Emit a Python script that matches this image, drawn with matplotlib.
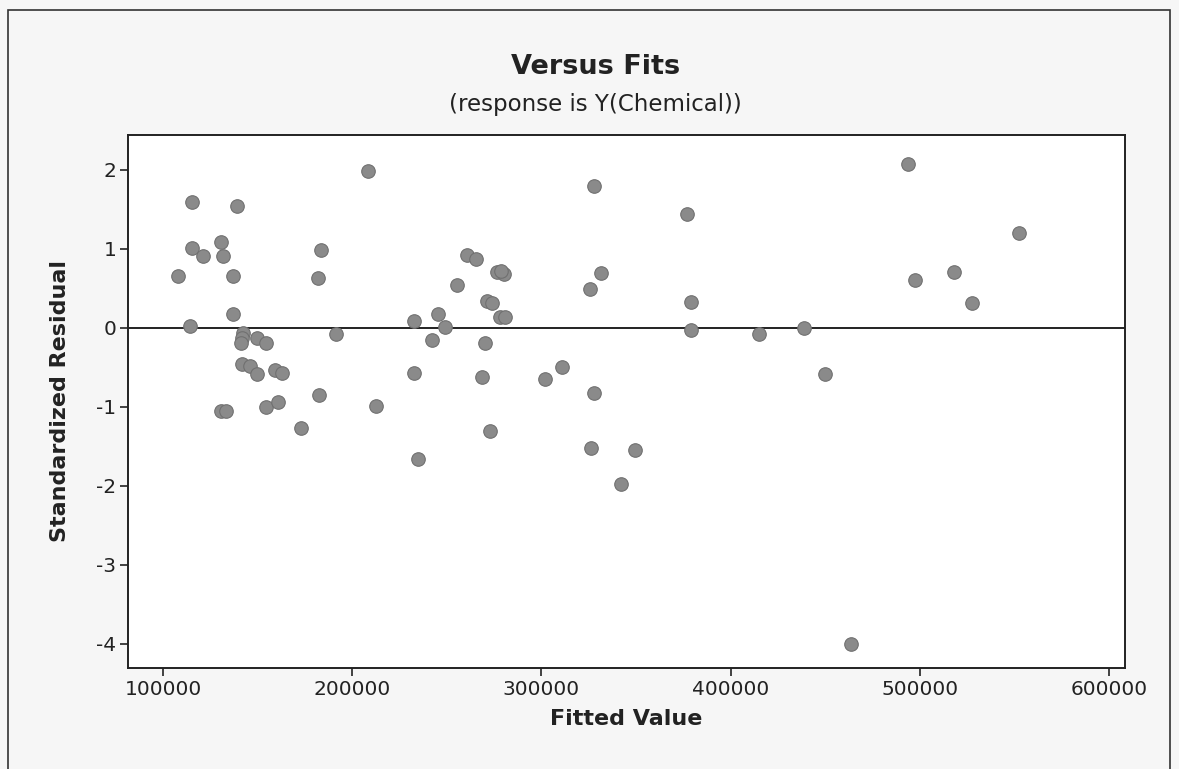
"""Versus Fits residual plot (Minitab style)."""
import matplotlib
matplotlib.use("Agg")
import matplotlib.pyplot as plt
from matplotlib.patches import Rectangle

# fitted values and standardized residuals
fitted = [
    208500, 115500, 139100, 130500, 115500, 121000, 131900, 183500, 108100, 137200,
    181800, 137200, 114400, 142400, 141600, 141000, 149500, 154400, 191400, 141800,
    146000, 149500, 159400, 163100, 182500, 130500, 133500, 154400, 160900, 172800,
    212600,
    328000, 260500, 265400, 276400, 280200, 278500, 331300, 255500, 325700, 271400,
    273700, 278100, 280800, 245500, 232500, 249200, 242200, 270400, 232500, 268500,
    310900, 302100, 328000, 273100, 326200, 234600,
    376800, 378900, 378900, 414900, 438600, 449700, 349700, 342200, 463800,
    493900, 552600, 517900, 497500, 527400,
]
std_resid = [
    1.99, 1.59, 1.54, 1.09, 1.01, 0.91, 0.91, 0.98, 0.66, 0.66,
    0.63, 0.17, 0.02, -0.07, -0.13, -0.19, -0.13, -0.19, -0.08, -0.46,
    -0.48, -0.59, -0.53, -0.57, -0.85, -1.06, -1.06, -1.01, -0.94, -1.27,
    -0.99,
    1.80, 0.92, 0.87, 0.70, 0.68, 0.72, 0.69, 0.54, 0.49, 0.34,
    0.31, 0.14, 0.13, 0.17, 0.09, 0.01, -0.16, -0.19, -0.57, -0.62,
    -0.50, -0.65, -0.83, -1.31, -1.52, -1.66,
    1.44, 0.33, -0.03, -0.08, -0.01, -0.59, -1.55, -1.98, -4.00,
    2.07, 1.20, 0.70, 0.60, 0.31,
]

xticks = [100000, 200000, 300000, 400000, 500000, 600000]
yticks = [-4, -3, -2, -1, 0, 1, 2]

INK = "#222222"
plt.rcParams.update({
    "font.family": ["DejaVu Sans"],
    "xtick.direction": "out", "ytick.direction": "out",
    "xtick.major.size": 6, "ytick.major.size": 6,
    "xtick.major.width": 1.2, "ytick.major.width": 1.2,
    "xtick.major.pad": 2.5, "ytick.major.pad": 2.5,
    "xtick.color": INK, "ytick.color": INK,
})

fig = plt.figure(figsize=(11.79, 7.69), dpi=100, facecolor="#f6f6f6")
fig.patches.append(Rectangle((8 / 1179, -0.01), 1162 / 1179, 1 - 10 / 769 + 0.01,
                             transform=fig.transFigure, fill=False,
                             edgecolor="#333333", linewidth=1.2))

ax = fig.add_axes([128 / 1179, 1 - 668 / 769, 997 / 1179, 533 / 769])
ax.set_facecolor("white")
ax.scatter(fitted, std_resid, s=95, color="#8a8a8a", edgecolors="#707070",
           linewidths=0.8, zorder=3)
ax.axhline(0, color=INK, linewidth=1.4, zorder=2)

ax.set_xlim(81500, 608500)
ax.set_ylim(-4.31, 2.44)
ax.set_xticks(xticks, [str(v) for v in xticks], fontsize=14.5)
ax.set_yticks(yticks, [str(v) for v in yticks], fontsize=14.5)
for sp in ax.spines.values():
    sp.set_linewidth(1.4)
    sp.set_color(INK)

ax.set_xlabel("Fitted Value", fontsize=16, fontweight="bold", labelpad=7, color=INK)
ax.set_ylabel("Standardized Residual", fontsize=16, fontweight="bold", labelpad=19,
              color=INK)

fig.text(596 / 1179, 1 - 67 / 769, "Versus Fits", ha="center", va="center",
         fontsize=19.5, fontweight="bold", color=INK)
fig.text(595 / 1179, 1 - 104 / 769, "(response is Y(Chemical))", ha="center",
         va="center", fontsize=16.5, color=INK)

fig.savefig("out.png", dpi=100, facecolor=fig.get_facecolor())
